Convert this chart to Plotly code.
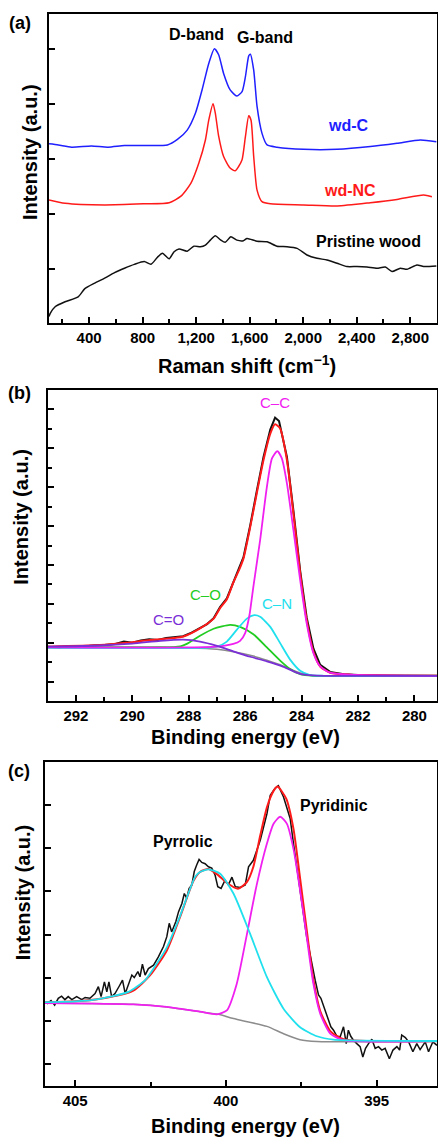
import plotly.graph_objects as go

W, H = 438, 1137
FONT = "Liberation Sans, Arial, sans-serif"

# ---------------- (a) Raman ----------------
raman_wdc_x = [100, 170, 269, 417, 541, 664, 812, 985, 1060, 1133, 1195, 1244, 1294, 1336, 1368, 1405, 1454, 1504,
               1543, 1568, 1593, 1605, 1630, 1655, 1692, 1730, 1804, 2003, 2253, 2502, 2701, 2875, 2995]
raman_wdc_y = [3.28, 3.26, 3.22, 3.24, 3.22, 3.25, 3.25, 3.26, 3.36, 3.53, 3.84, 4.26, 4.74, 5.01, 4.90, 4.56, 4.26, 4.15,
               4.23, 4.50, 4.88, 4.91, 4.62, 3.96, 3.47, 3.26, 3.22, 3.18, 3.18, 3.23, 3.29, 3.35, 3.32]

raman_wdnc_x = [100, 220, 516, 812, 998, 1086, 1160, 1220, 1269, 1294, 1326, 1343, 1368, 1405, 1454, 1491, 1515, 1543,
                1568, 1593, 1610, 1630, 1655, 1692, 1754, 2003, 2253, 2501, 2701, 2900, 2962]
raman_wdnc_y = [2.26, 2.20, 2.17, 2.19, 2.21, 2.33, 2.56, 2.93, 3.35, 3.71, 4.01, 3.84, 3.42, 3.05, 2.84, 2.79, 2.86, 2.99,
                3.41, 3.79, 3.71, 3.05, 2.44, 2.23, 2.19, 2.17, 2.15, 2.21, 2.27, 2.35, 2.32]

raman_wood_x = [100, 109, 146, 220, 318, 368, 442, 516, 590, 664, 738, 812, 862, 911, 948, 998, 1035, 1072, 1133, 1183,
                1232, 1269, 1306, 1343, 1380, 1417, 1459, 1504, 1553, 1580, 1655, 1730, 1804, 1879, 1954, 2028, 2103,
                2178, 2253, 2327, 2402, 2477, 2551, 2614, 2664, 2726, 2776, 2850, 2900, 2995]
raman_wood_y = [0.14, 0.20, 0.32, 0.41, 0.50, 0.65, 0.75, 0.84, 0.94, 1.02, 1.09, 1.14, 1.09, 1.22, 1.29, 1.19, 1.32, 1.37,
                1.33, 1.42, 1.41, 1.44, 1.53, 1.61, 1.54, 1.49, 1.59, 1.53, 1.52, 1.56, 1.51, 1.50, 1.42, 1.41, 1.38,
                1.26, 1.20, 1.17, 1.11, 1.05, 1.05, 1.04, 1.02, 1.04, 0.96, 1.02, 1.00, 1.08, 1.05, 1.06]

# ---------------- (b) C1s ----------------
c1s_data_x = [293, 292.6, 292.2, 291.8, 291.4, 291.0, 290.6, 290.3, 290.0, 289.7, 289.4, 289.1, 288.8, 288.5, 288.2,
              287.9, 287.6, 287.35, 287.12, 286.89, 286.65, 286.42, 286.2, 286.06, 285.82, 285.59, 285.35, 285.11,
              284.94, 284.8, 284.65, 284.52, 284.29, 284.05, 283.82, 283.58, 283.34, 282.99, 282.5, 282.0, 281.0, 279.2]
c1s_data_y = [0.90, 0.88, 0.91, 0.90, 0.93, 0.94, 0.97, 1.03, 1.00, 1.06, 1.09, 1.07, 1.12, 1.14, 1.17,
              1.26, 1.38, 1.48, 1.63, 1.92, 2.14, 2.58, 2.95, 3.20, 4.02, 4.90, 5.78, 6.48,
              6.79, 6.70, 6.25, 5.78, 4.40, 2.85, 1.65, 0.85, 0.43, 0.25, 0.19, 0.17, 0.16, 0.15]

c1s_fit_x = [293, 291.15, 290.2, 289.37, 288.54, 288.19, 287.6, 287.12, 286.89, 286.65, 286.42, 286.2, 286.06, 285.82,
             285.59, 285.35, 285.11, 284.94, 284.76, 284.52, 284.29, 284.05, 283.82, 283.58, 283.34, 282.99, 282.28, 279.2]
c1s_fit_y = [0.90, 0.94, 1.00, 1.07, 1.12, 1.16, 1.37, 1.62, 1.89, 2.12, 2.55, 2.90, 3.17, 3.98,
             4.84, 5.70, 6.38, 6.62, 6.51, 5.70, 4.33, 2.79, 1.59, 0.77, 0.39, 0.23, 0.18, 0.15]

c1s_bg_x = [293, 289.0, 288.0, 287.0, 286.42, 285.71, 285.23, 284.64, 284.05, 283.6, 283.2, 279.2]
c1s_bg_y = [0.90, 0.89, 0.87, 0.83, 0.77, 0.66, 0.55, 0.40, 0.22, 0.16, 0.15, 0.15]

c1s_co2_x = [293, 291.15, 290.0, 289.0, 288.2, 287.6, 287.0, 286.42, 285.82, 285.23, 284.64, 284.05, 283.6, 283.2, 279.2]
c1s_co2_y = [0.90, 0.93, 0.98, 1.05, 1.08, 1.03, 0.92, 0.78, 0.64, 0.52, 0.38, 0.20, 0.16, 0.15, 0.15]

c1s_co_x = [293, 289.0, 288.3, 288.07, 287.6, 287.12, 286.53, 286.18, 285.71, 285.23, 284.76, 284.4, 284.05, 283.6, 279.2]
c1s_co_y = [0.88, 0.88, 0.91, 0.97, 1.18, 1.36, 1.46, 1.41, 1.22, 0.88, 0.54, 0.32, 0.19, 0.15, 0.15]

c1s_cn_x = [293, 287.6, 287.0, 286.65, 286.3, 285.94, 285.68, 285.47, 285.11, 284.76, 284.4, 284.05, 283.7, 283.2, 279.2]
c1s_cn_y = [0.87, 0.87, 0.90, 1.03, 1.33, 1.62, 1.71, 1.67, 1.41, 0.99, 0.56, 0.28, 0.17, 0.15, 0.15]

c1s_cc_x = [293, 287.0, 286.42, 286.18, 286.0, 285.85, 285.71, 285.47, 285.23, 285.05, 284.86, 284.7, 284.52, 284.29,
            284.05, 283.82, 283.58, 283.34, 282.99, 282.28, 279.2]
c1s_cc_y = [0.88, 0.90, 0.97, 1.05, 1.25, 1.70, 2.44, 3.64, 5.01, 5.74, 5.93, 5.74, 5.10, 3.90,
            2.61, 1.50, 0.73, 0.39, 0.23, 0.18, 0.15]

# ---------------- (c) N1s ----------------
n1s_data_x = [405.94, 405.80, 405.68, 405.56, 405.45, 405.34, 405.23, 405.11, 404.95, 404.78,
              404.67, 404.51, 404.34, 404.23, 404.14, 404.03, 403.95, 403.88, 403.79, 403.68,
              403.54, 403.43, 403.34, 403.23, 403.12, 403.04, 402.92, 402.85, 402.77, 402.68,
              402.57, 402.40, 402.24, 402.07, 401.96, 401.88, 401.80, 401.66, 401.57, 401.46,
              401.38, 401.30, 401.22, 401.13, 401.05, 400.97, 400.89, 400.80, 400.69, 400.58,
              400.47, 400.36, 400.27, 400.16, 400.03, 399.92, 399.80, 399.69, 399.53, 399.36,
              399.25, 399.09, 398.86, 398.64, 398.53, 398.37, 398.26, 398.09, 397.98, 397.87,
              397.76, 397.54, 397.32, 397.04, 396.93, 396.85, 396.77, 396.68, 396.60, 396.52,
              396.43, 396.32, 396.21, 396.10, 396.01, 395.94, 395.86, 395.77, 395.66, 395.55,
              395.46, 395.37, 395.27, 395.16, 395.05, 394.94, 394.83, 394.72, 394.58, 394.46,
              394.33, 394.24, 394.17, 394.05, 393.94, 393.80, 393.67, 393.56, 393.39, 393.28,
              393.14, 393.00]
n1s_data_y = [1.39, 1.47, 1.36, 1.52, 1.57, 1.49, 1.56, 1.49, 1.56, 1.49,
              1.54, 1.52, 1.63, 1.79, 1.56, 1.90, 1.67, 1.90, 1.56, 1.63,
              1.80, 1.94, 1.63, 1.87, 2.06, 2.00, 2.14, 2.02, 2.31, 2.06,
              2.21, 2.29, 2.48, 2.72, 2.95, 3.26, 3.06, 3.30, 3.53, 3.72,
              3.95, 3.84, 4.07, 4.15, 4.46, 4.61, 4.74, 4.67, 4.64, 4.57,
              4.54, 4.38, 4.11, 4.07, 4.26, 4.15, 4.33, 4.11, 4.09, 4.15,
              4.57, 4.72, 5.19, 5.80, 6.23, 6.39, 6.45, 6.19, 5.96, 5.69,
              5.11, 4.02, 2.94, 1.94, 1.60, 1.52, 1.36, 1.17, 1.05, 0.86,
              0.78, 0.64, 0.63, 0.86, 0.47, 0.78, 0.64, 0.55, 0.47, 0.40,
              0.16, 0.36, 0.47, 0.57, 0.36, 0.40, 0.32, 0.36, 0.12, 0.32,
              0.40, 0.32, 0.67, 0.61, 0.51, 0.28, 0.47, 0.33, 0.51, 0.28,
              0.51, 0.43]

n1s_fit_x = [406, 405.0, 404.17, 403.07, 402.52, 401.96, 401.52, 401.08, 400.86, 400.58, 400.3, 399.97, 399.6, 399.3,
             399.09, 398.86, 398.64, 398.42, 398.29, 398.0, 397.76, 397.54, 397.32, 397.1, 396.87, 396.54, 396.1, 393]
n1s_fit_y = [1.43, 1.45, 1.51, 1.70, 2.05, 2.63, 3.41, 4.24, 4.45, 4.52, 4.40, 4.20, 4.06, 4.22,
             4.57, 5.30, 5.95, 6.33, 6.43, 6.15, 5.45, 4.30, 3.10, 1.95, 1.22, 0.76, 0.57, 0.53]

n1s_bg_x = [406, 403.07, 401.96, 400.86, 400.25, 399.75, 398.64, 398.09, 397.54, 396.98, 393]
n1s_bg_y = [1.41, 1.38, 1.32, 1.21, 1.15, 1.05, 0.87, 0.70, 0.56, 0.52, 0.52]

n1s_pyrrolic_x = [406, 405.0, 404.34, 403.23, 402.68, 402.40, 401.96, 401.57, 401.02, 400.86, 400.58, 400.19, 399.75,
                  399.2, 398.64, 398.09, 397.54, 396.98, 396.43, 393]
n1s_pyrrolic_y = [1.43, 1.45, 1.49, 1.67, 1.94, 2.21, 2.70, 3.34, 4.34, 4.45, 4.51, 4.41, 3.95,
                  3.02, 2.01, 1.28, 0.85, 0.64, 0.56, 0.53]

n1s_pyridinic_x = [406, 403.07, 401.96, 400.86, 400.3, 399.97, 399.64, 399.3, 398.97, 398.64, 398.42, 398.2, 397.98,
                   397.75, 397.54, 397.32, 397.1, 396.87, 396.54, 396.1, 393]
n1s_pyridinic_y = [1.41, 1.38, 1.32, 1.21, 1.15, 1.24, 1.86, 3.02, 4.18, 5.11, 5.57, 5.73, 5.57,
                   4.95, 4.02, 2.94, 1.86, 1.16, 0.70, 0.55, 0.53]

# ---------------- figure ----------------
fig = go.Figure()


def line(x, y, color, ax, width=1.5, spline=True):
    fig.add_trace(go.Scatter(
        x=x, y=y, mode="lines", xaxis="x" + ax, yaxis="y" + ax, showlegend=False, hoverinfo="skip",
        line=dict(color=color, width=width, shape="spline" if spline else "linear", smoothing=0.6)))


BLUE, RED, BLACK = "#1f1fff", "#ff1a1a", "#111111"
MAG, CYAN, GREEN, PURP, GRAY = "#f020f0", "#20e0ee", "#22cc22", "#7a2fd6", "#8c8c8c"

# (a)
line(raman_wood_x, raman_wood_y, BLACK, "")
line(raman_wdnc_x, raman_wdnc_y, RED, "")
line(raman_wdc_x, raman_wdc_y, BLUE, "")
# (b)
line(c1s_data_x, c1s_data_y, BLACK, "2", 2.0, spline=False)
line(c1s_fit_x, c1s_fit_y, RED, "2", 2.0)
line(c1s_bg_x, c1s_bg_y, GRAY, "2", 1.5)
line(c1s_co_x, c1s_co_y, GREEN, "2", 1.8)
line(c1s_cn_x, c1s_cn_y, CYAN, "2", 1.8)
line(c1s_cc_x, c1s_cc_y, MAG, "2", 1.8)
line(c1s_co2_x, c1s_co2_y, PURP, "2", 1.8)
# (c)
line(n1s_data_x, n1s_data_y, BLACK, "3", 1.5, spline=False)
line(n1s_fit_x, n1s_fit_y, RED, "3", 2.0)
line(n1s_bg_x, n1s_bg_y, GRAY, "3", 1.5)
line(n1s_pyridinic_x, n1s_pyridinic_y, MAG, "3", 1.8)
line(n1s_pyrrolic_x, n1s_pyrrolic_y, CYAN, "3", 1.8)


def px_x(p):
    return p / W


def px_y(p):
    return 1 - p / H


tickfont = dict(family=FONT, size=15, color="black", weight="bold")
common = dict(showline=True, mirror=True, linecolor="black", linewidth=2, ticks="inside", tickcolor="black",
              tickwidth=1.5, showgrid=False, zeroline=False)

fig.update_layout(
    width=W, height=H, margin=dict(l=0, r=0, t=0, b=0),
    paper_bgcolor="white", plot_bgcolor="white",
    xaxis=dict(domain=[px_x(49), px_x(437)], range=[100, 3000], anchor="y", tick0=400, dtick=400,
               tickformat=",d", ticklen=6, tickfont=tickfont,
               minor=dict(ticks="inside", dtick=200, ticklen=4, tickcolor="black", tickwidth=1.5), **common),
    yaxis=dict(domain=[px_y(323), px_y(14)], range=[0.024, 5.64], anchor="x", tick0=0, dtick=1, ticklen=6,
               showticklabels=False, **common),
    xaxis2=dict(domain=[px_x(47.7), px_x(437)], range=[293, 279.2], anchor="y2", tick0=280, dtick=2, ticklen=6,
                tickfont=tickfont,
                minor=dict(ticks="inside", dtick=1, ticklen=4, tickcolor="black", tickwidth=1.5), **common),
    yaxis2=dict(domain=[px_y(700.7), px_y(390)], range=[-0.49, 7.5], anchor="x2", tick0=0, dtick=1, ticklen=6,
                showticklabels=False,
                minor=dict(ticks="inside", dtick=0.5, ticklen=4, tickcolor="black", tickwidth=1.5), **common),
    xaxis3=dict(domain=[px_x(45), px_x(437)], range=[406, 393], anchor="y3", tick0=395, dtick=5, ticklen=6,
                tickfont=tickfont,
                minor=dict(ticks="inside", dtick=2.5, ticklen=4, tickcolor="black", tickwidth=1.5), **common),
    yaxis3=dict(domain=[px_y(1086.3), px_y(762)], range=[-0.52, 7.0], anchor="x3", tick0=0, dtick=1, ticklen=6,
                showticklabels=False, **common),
)

ann = []


def paper_text(text, x, y, size, angle=0):
    ann.append(dict(text=text, x=px_x(x), y=px_y(y), xref="paper", yref="paper", showarrow=False,
                    xanchor="center", yanchor="middle", textangle=angle,
                    font=dict(family=FONT, size=size, color="black", weight="bold")))


def data_text(text, x, y, ax, color, size, bold=True):
    ann.append(dict(text=text, x=x, y=y, xref="x" + ax, yref="y" + ax, showarrow=False,
                    xanchor="center", yanchor="middle",
                    font=dict(family=FONT, size=size, color=color, weight="bold" if bold else "normal")))


# panel letters
paper_text("(a)", 20, 23, 18)
paper_text("(b)", 19, 393, 18)
paper_text("(c)", 19, 771, 18)
# axis titles
paper_text("Raman shift (cm<sup>\u22121</sup>)", 246.7, 364, 20)
paper_text("Binding energy (eV)", 245.8, 737, 20)
paper_text("Binding energy (eV)", 245.8, 1126, 20)
paper_text("Intensity (a.u.)", 30.5, 152.5, 20, -90)
paper_text("Intensity (a.u.)", 20.7, 517, 20, -90)
paper_text("Intensity (a.u.)", 23.3, 892, 20, -90)

# curve labels
data_text("D-band", 1203, 5.26, "", "black", 16)
data_text("G-band", 1717, 5.21, "", "black", 16)
data_text("wd-C", 2335, 3.62, "", BLUE, 16)
data_text("wd-NC", 2347, 2.44, "", RED, 16)
data_text("Pristine wood", 2485, 1.50, "", "black", 16)

data_text("C\u2013C", 284.94, 7.17, "2", MAG, 15, bold=False)
data_text("C\u2013O", 287.42, 2.23, "2", GREEN, 15, bold=False)
data_text("C\u2013N", 284.88, 2.0, "2", CYAN, 15, bold=False)
data_text("C=O", 288.72, 1.59, "2", PURP, 15, bold=False)

data_text("Pyrrolic", 401.43, 5.15, "3", "black", 16)
data_text("Pyridinic", 396.40, 6.0, "3", "black", 16)

fig.update_layout(annotations=ann)
fig.write_html("out.html", config={"displayModeBar": False},
               post_script="document.body.style.margin='0';document.body.style.overflow='hidden';")
